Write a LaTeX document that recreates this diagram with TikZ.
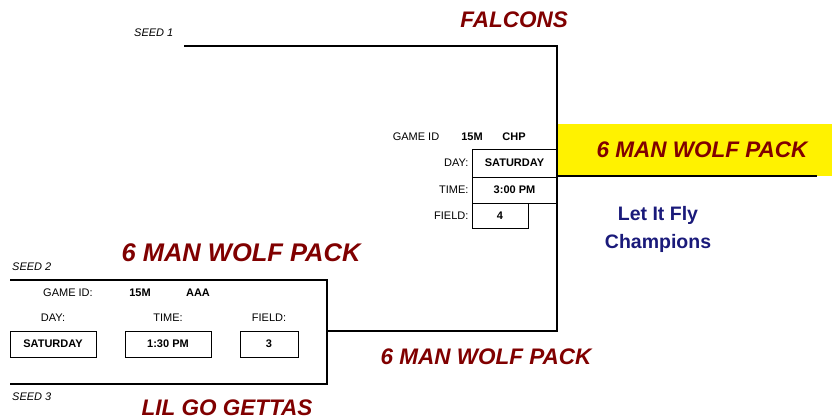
\documentclass[tikz,border=0pt]{standalone}
\usepackage{fontspec}
\setmainfont{Liberation Sans}
\definecolor{teamred}{RGB}{128,0,0}
\definecolor{champblue}{RGB}{26,26,122}
\begin{document}
\begin{tikzpicture}[x=1pt, y=-1pt,
   team/.style={inner sep=0pt, text=teamred, font=\bfseries\itshape\fontsize{22.5}{24}\selectfont},
   lbl/.style={inner sep=0pt, font=\fontsize{11}{12}\selectfont},
   val/.style={inner sep=0pt, font=\bfseries\fontsize{11}{12}\selectfont},
   seed/.style={inner sep=0pt, anchor=west, font=\itshape\fontsize{11}{12}\selectfont},
   cell/.style={draw, line width=0.8pt, inner sep=0pt, font=\bfseries\fontsize{11}{12}\selectfont},
   bracket/.style={line width=1.6pt}]
   \useasboundingbox (0,0) rectangle (832,420);
   % champion slot
   \fill[yellow] (557,124) rectangle (832,176);
   \node[team] (champ) at (702,150) {6 MAN WOLF PACK};
   \node[inner sep=0pt, text=champblue, font=\bfseries\fontsize{19.5}{22}\selectfont,
         align=center] (title) at (658,229) {Let It Fly\\[6pt]Champions};
   % seeds and teams
   \node[seed] (seed1) at (134,33) {SEED 1};
   \node[seed] (seed2) at (12,267) {SEED 2};
   \node[seed] (seed3) at (12,397) {SEED 3};
   \node[team] (falcons) at (514,20) {FALCONS};
   \node[team, font=\bfseries\itshape\fontsize{25.5}{27}\selectfont] (wolf2) at (241,253) {6 MAN WOLF PACK};
   \node[team] (lil) at (227,408) {LIL GO GETTAS};
   \node[team] (wolfw) at (486,357) {6 MAN WOLF PACK};
   % bracket
   \coordinate (a1) at (184,46);
   \coordinate (a2) at (557,46);
   \coordinate (m) at (557,331);
   \coordinate (c1) at (557,176);
   \coordinate (c2) at (817,176);
   \coordinate (g1) at (10,280);
   \coordinate (g2) at (327,280);
   \coordinate (g3) at (327,384);
   \coordinate (g4) at (10,384);
   \coordinate (gm) at (327,331);
   \draw[bracket] (a1) -- (a2) -- (m) -- (gm);
   \draw[bracket] (c1) -- (c2);
   \draw[bracket] (g1) -- (g2) -- (g3) -- (g4);
   % final game
   \node[lbl] (fid) at (416,137) {GAME ID};
   \node[val] (fnum) at (472,137) {15M};
   \node[val] (fcode) at (514,137) {CHP};
   \node[cell, minimum width=85pt, minimum height=28pt] (fday) at (514.5,163) {SATURDAY};
   \node[cell, minimum width=85pt, minimum height=26pt] (ftime) at (514.5,190) {3:00 PM};
   \node[cell, minimum width=56pt, minimum height=25pt] (ffield) at (500,215.5) {4};
   \foreach \n/\t in {fday/DAY:, ftime/TIME:, ffield/FIELD:}
     \node[lbl, anchor=east] at ([xshift=-3pt]\n.west) {\t};
   % first game
   \node[lbl] (gid) at (68,293) {GAME ID:};
   \node[val] (gnum) at (140,293) {15M};
   \node[val] (gcode) at (198,293) {AAA};
   \foreach \n/\x/\w/\l/\v in
     { gday/53/86/{DAY:}/{SATURDAY},
       gtime/168/86/{TIME:}/{1:30 PM},
       gfield/269/58/{FIELD:}/{3}
     }
     \node[cell, minimum width=\w pt, minimum height=26pt,
           label={[lbl, yshift=9pt]above:\l}] (\n) at (\x,344) {\v};
\end{tikzpicture}
\end{document}
